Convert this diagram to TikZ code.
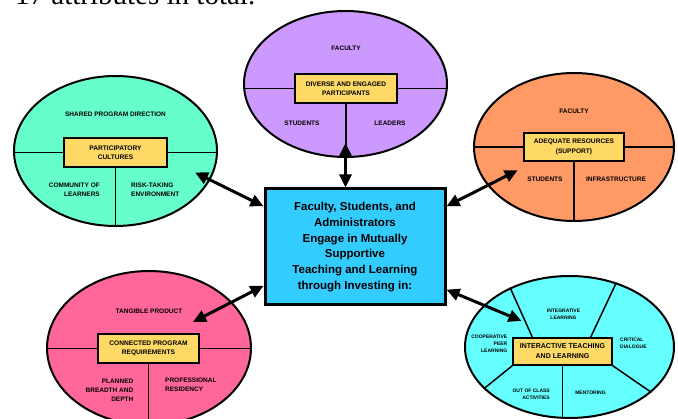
\documentclass[tikz,border=0pt]{standalone}
\usepackage{fontspec}
\usetikzlibrary{shapes.geometric, arrows.meta, calc}
\newfontfamily\arialfont{Liberation Sans}
\newfontfamily\timesfont{Liberation Serif}
\definecolor{grnfill}{RGB}{102,255,204}
\definecolor{purfill}{RGB}{204,153,255}
\definecolor{orgfill}{RGB}{255,153,102}
\definecolor{pnkfill}{RGB}{255,102,153}
\definecolor{cynfill}{RGB}{102,255,255}
\definecolor{corefill}{RGB}{51,204,255}
\definecolor{tagfill}{RGB}{255,217,102}

\begin{document}
\begin{tikzpicture}[x=1pt, y=-1pt,
    blob/.style={ellipse, draw, line width=2pt, inner sep=0pt},
    tag/.style={draw, line width=1.5pt, fill=tagfill, align=center, inner sep=0pt,
        font=\arialfont\bfseries\fontsize{6.6}{9.3}\selectfont},
    small/.style={inner sep=0pt, font=\arialfont\bfseries\fontsize{6.5}{9}\selectfont},
    tiny/.style={inner sep=0pt, font=\arialfont\bfseries\fontsize{5}{7}\selectfont},
    divide/.style={line width=1.5pt},
    link/.style={line width=3pt, {Triangle[length=13pt,width=12pt]}-{Triangle[length=13pt,width=12pt]}}]
\useasboundingbox (0,0) rectangle (678,419);
\clip (0,0) rectangle (678,419);

\node[anchor=base west, inner sep=0pt, font=\timesfont\fontsize{29}{30}\selectfont] (title) at (15,5) {17 attributes in total.};

% the five ellipses
\node[blob, fill=grnfill, minimum width=203pt, minimum height=150pt] (grn) at (115.5,151) {};
\node[blob, fill=purfill, minimum width=203pt, minimum height=146pt] (pur) at (345.5,84) {};
\node[blob, fill=orgfill, minimum width=200pt, minimum height=148pt] (org) at (574,147) {};
\node[blob, fill=pnkfill, minimum width=204pt, minimum height=154pt] (pnk) at (149,348) {};
\node[blob, fill=cynfill, minimum width=209pt, minimum height=142pt] (cyn) at (569.5,347) {};

\node[tag, minimum width=103pt, minimum height=29pt] (grnbox) at (115.5,152.5) {PARTICIPATORY\\CULTURES};
\node[tag, minimum width=102pt, minimum height=29pt] (purbox) at (346,88.5) {DIVERSE AND ENGAGED\\PARTICIPANTS};
\node[tag, minimum width=100pt, minimum height=28pt] (orgbox) at (574,147) {ADEQUATE RESOURCES\\(SUPPORT)};
\node[tag, minimum width=101pt, minimum height=29pt] (pnkbox) at (148.5,348.5) {CONNECTED PROGRAM\\REQUIREMENTS};
\node[tag, minimum width=99pt, minimum height=27pt, font=\arialfont\bfseries\fontsize{7}{10}\selectfont] (cynbox) at (562.5,351.5) {INTERACTIVE TEACHING\\AND LEARNING};

\foreach \e in {grn, pur, org, pnk} {
  \draw[divide] (\e box.west) -- (\e box.west -| \e.west);
  \draw[divide] (\e box.east) -- (\e box.east -| \e.east);
  \draw[divide] (\e box.south) -- (\e box.south |- \e.south);
}
\draw[divide] ($(cynbox.north west)!0.2!(cynbox.north east)$) -- (cyn.135);
\draw[divide] ($(cynbox.north west)!0.78!(cynbox.north east)$) -- (cyn.54);
\draw[divide] (cynbox.south east) -- (cyn.-29);
\draw[divide] (cynbox.south west) -- (cyn.-154);
\draw[divide] (cynbox.south) -- (cynbox.south |- cyn.south);

\node[small] (grntop) at (115.5,114) {SHARED PROGRAM DIRECTION};
\node[small, align=right, anchor=east] (grnleft) at (100,189.5) {COMMUNITY OF\\LEARNERS};
\node[small, align=left, anchor=west] (grnright) at (131,189.5) {RISK-TAKING\\ENVIRONMENT};

\node[small] (purtop) at (346,48) {FACULTY};
\node[small] (purleft) at (302,123) {STUDENTS};
\node[small] (purright) at (390,123) {LEADERS};

\node[small] (orgtop) at (574,111) {FACULTY};
\node[small] (orgleft) at (545,179) {STUDENTS};
\node[small] (orgright) at (616,179) {INFRASTRUCTURE};

\node[small] (pnktop) at (149,311) {TANGIBLE PRODUCT};
\node[small, align=right, anchor=east] (pnkleft) at (133.5,390) {PLANNED\\BREADTH AND\\DEPTH};
\node[small, align=left, anchor=west] (pnkright) at (165,384.5) {PROFESSIONAL\\RESIDENCY};

\node[tiny, align=center] (cyntop) at (563.5,314.5) {INTEGRATIVE\\LEARNING};
\node[tiny, align=left, anchor=west] (cynright) at (620,343.5) {CRITICAL\\DIALOGUE};
\node[tiny, align=right, anchor=east] (cynleft) at (507.5,344) {COOPERATIVE\\PEER\\LEARNING};
\node[tiny, align=right, anchor=east] (cynlow) at (550,394) {OUT OF CLASS\\ACTIVITIES};
\node[tiny] (cynmid) at (590.5,392.5) {MENTORING};

% centre box
\node[draw, line width=3pt, fill=corefill, minimum width=180pt, minimum height=116pt, align=center,
    font=\arialfont\bfseries\fontsize{11.5}{15.7}\selectfont] (core) at (355,247)
    {Faculty, Students, and\\Administrators\\Engage in Mutually\\Supportive\\Teaching and Learning\\through Investing in:};

\draw[link, shorten <=-15pt] (pur.south) -- (pur.south |- core.north);
\draw[link, shorten <=-17pt] (grn.-17) -- (core.156);
\draw[link, shorten <=-34pt] (org.-156) -- (core.24);
\draw[link, shorten <=-44pt] (pnk.29) -- (core.203);
\draw[link, shorten <=-41pt] (cyn.154) -- (core.-25);
\end{tikzpicture}
\end{document}
